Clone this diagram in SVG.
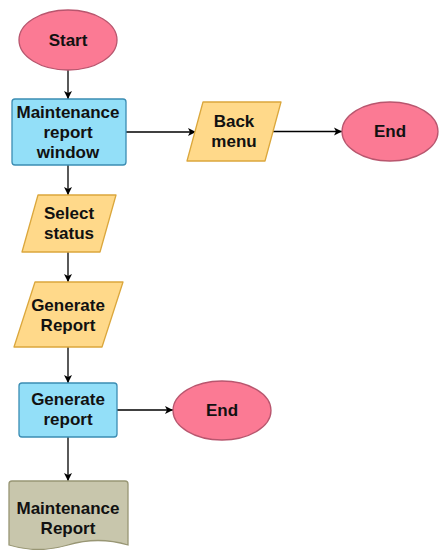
<svg xmlns="http://www.w3.org/2000/svg" width="440" height="550" viewBox="0 0 440 550">
  <defs>
    <marker id="arrow" markerWidth="10" markerHeight="10" refX="9" refY="5" orient="auto" markerUnits="userSpaceOnUse">
      <path d="M1,1 L9,5 L1,9 L3,5 Z" fill="#000"/>
    </marker>
    <style>
      .term { fill: #fb7a94; stroke: #b8566e; stroke-width: 1.3; }
      .proc { fill: #93dff8; stroke: #3b8db3; stroke-width: 1.3; }
      .io { fill: #ffd98a; stroke: #dba73c; stroke-width: 1.3; stroke-linejoin: round; }
      .doc { fill: #c8c6ac; stroke: #989674; stroke-width: 1.3; }
      .edge { fill: none; stroke: #000; stroke-width: 1.3; marker-end: url(#arrow); }
      text { font-family: "Liberation Sans", Arial, sans-serif; font-weight: bold; font-size: 17px; fill: #111; text-anchor: middle; }
    </style>
  </defs>
  <rect width="440" height="550" fill="#fff"/>

  <g id="connectors">
    <path class="edge" d="M68,70 V99"/>
    <path class="edge" d="M126,132 H196"/>
    <path class="edge" d="M273,131.5 H342"/>
    <path class="edge" d="M68,165 V195"/>
    <path class="edge" d="M68,252 V282"/>
    <path class="edge" d="M68,347 V383"/>
    <path class="edge" d="M117,410 H173"/>
    <path class="edge" d="M68,437 V481"/>
  </g>

  <g id="start">
    <ellipse class="term" cx="68" cy="40" rx="49" ry="30"/>
    <text x="68" y="46">Start</text>
  </g>

  <g id="maintenance-window">
    <rect class="proc" x="12" y="99" width="114" height="66" rx="3"/>
    <text x="68" y="118">Maintenance</text>
    <text x="68" y="138">report</text>
    <text x="68" y="158">window</text>
  </g>

  <g id="back-menu">
    <path class="io" d="M203,102 H281 L265,161 H187 Z"/>
    <text x="234" y="127">Back</text>
    <text x="234" y="147">menu</text>
  </g>

  <g id="end-top">
    <ellipse class="term" cx="390" cy="131.5" rx="48" ry="29.5"/>
    <text x="390" y="137">End</text>
  </g>

  <g id="select-status">
    <path class="io" d="M38,195 H116 L100,252 H22 Z"/>
    <text x="69" y="219">Select</text>
    <text x="69" y="239">status</text>
  </g>

  <g id="generate-report-input">
    <path class="io" d="M35,282 H123 L102,347 H14 Z"/>
    <text x="68" y="311">Generate</text>
    <text x="68" y="331">Report</text>
  </g>

  <g id="generate-report">
    <rect class="proc" x="19" y="383" width="98" height="54" rx="3"/>
    <text x="68" y="405">Generate</text>
    <text x="68" y="425">report</text>
  </g>

  <g id="end-bottom">
    <ellipse class="term" cx="222" cy="410.5" rx="49" ry="29.5"/>
    <text x="222" y="416">End</text>
  </g>

  <g id="maintenance-report">
    <path class="doc" d="M12,481 H125 Q128,481 128,484 V545 Q98,536 68,545 Q38,554 9,545 V484 Q9,481 12,481 Z"/>
    <text x="68" y="514">Maintenance</text>
    <text x="68" y="534">Report</text>
  </g>
</svg>
